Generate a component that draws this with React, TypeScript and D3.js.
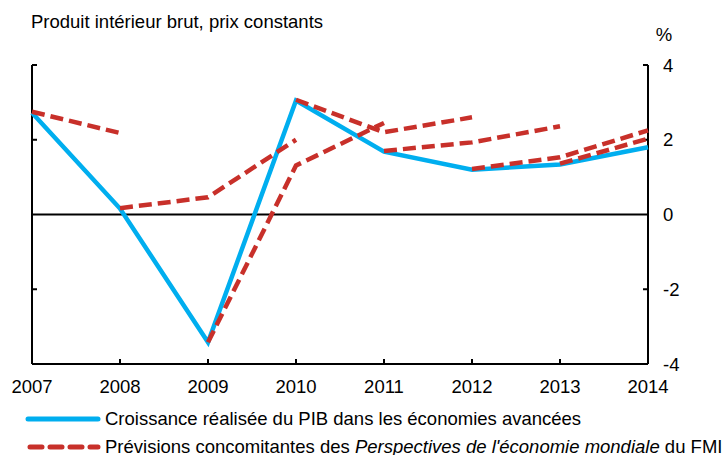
import React from "react";
import * as d3 from "d3";

const years = [2007, 2008, 2009, 2010, 2011, 2012, 2013, 2014];
const actualGrowth = [2.72, 0.16, -3.42, 3.05, 1.68, 1.2, 1.34, 1.8];

// Forecast vintages: each is a short path of [year, value]
const forecast2007Years = [2007, 2008];
const forecast2007Values = [2.75, 2.18];
const forecast2008Years = [2008, 2009, 2010];
const forecast2008Values = [0.17, 0.46, 2.0];
const forecast2009Years = [2009, 2010, 2011];
const forecast2009Values = [-3.42, 1.31, 2.45];
const forecast2010Years = [2010, 2011, 2012];
const forecast2010Values = [3.07, 2.2, 2.6];
const forecast2011Years = [2011, 2012, 2013];
const forecast2011Values = [1.7, 1.93, 2.36];
const forecast2012Years = [2012, 2013, 2014];
const forecast2012Values = [1.22, 1.53, 2.25];
const forecast2013Years = [2013, 2014];
const forecast2013Values = [1.36, 2.03];

const forecastYears = [forecast2007Years, forecast2008Years, forecast2009Years, forecast2010Years, forecast2011Years, forecast2012Years, forecast2013Years];
const forecastValues = [forecast2007Values, forecast2008Values, forecast2009Values, forecast2010Values, forecast2011Values, forecast2012Values, forecast2013Values];

const yTicks = [4, 2, 0, -2, -4];
const yInnerTicks = [4, 2, -2];
const xInnerTicks = [2008, 2009, 2010, 2011, 2012, 2013];

const subtitle = "Produit intérieur brut, prix constants";
const unitLabel = "%";
const legendActual = "Croissance réalisée du PIB dans les économies avancées";
const legendForecastA = "Prévisions concomitantes des ";
const legendForecastB = "Perspectives de l'économie mondiale";
const legendForecastC = " du FMI";

const BLUE = "#00aeef";
const RED = "#c8302a";
const FONT = "Liberation Sans, Arial, sans-serif";
const FS = 18.5;

export default function App() {
  const W = 727, H = 455;
  const x = d3.scaleLinear().domain([2007, 2014]).range([32, 648]);
  const y = d3.scaleLinear().domain([-4, 4]).range([364, 65]);
  const line = d3.line<[number, number]>().x((d) => x(d[0])).y((d) => y(d[1]));

  const actualPath = line(years.map((yr, i) => [yr, actualGrowth[i]] as [number, number])) || "";
  const forecastPaths = forecastYears.map((ys, k) =>
    line(ys.map((yr, i) => [yr, forecastValues[k][i]] as [number, number])) || ""
  );

  const x0 = x(2007), x1 = x(2014), yTop = y(4), yBot = y(-4);

  return (
    <svg width={W} height={H} style={{ position: "absolute", left: 0, top: 0, background: "#fff" }} fontFamily={FONT}>
      <rect x={0} y={0} width={W} height={H} fill="#fff" />
      <text x={31} y={28} fontSize={FS} fill="#000">{subtitle}</text>
      <text x={664} y={41} fontSize={FS} textAnchor="middle" fill="#000">{unitLabel}</text>

      {/* axes frame */}
      <line x1={x0} x2={x0} y1={yTop} y2={yBot} stroke="#000" strokeWidth={2} />
      <line x1={x1} x2={x1} y1={yTop} y2={yBot} stroke="#000" strokeWidth={2} />
      <line x1={x0} x2={x1} y1={yBot} y2={yBot} stroke="#000" strokeWidth={2} />
      <line x1={x0} x2={x1} y1={y(0)} y2={y(0)} stroke="#000" strokeWidth={2} />
      {yInnerTicks.map((t) => (
        <g key={"yt" + t}>
          <line x1={x0} x2={x0 + 5} y1={y(t)} y2={y(t)} stroke="#000" strokeWidth={2} />
          <line x1={x1 - 5} x2={x1} y1={y(t)} y2={y(t)} stroke="#000" strokeWidth={2} />
        </g>
      ))}
      {xInnerTicks.map((t) => (
        <line key={"xt" + t} x1={x(t)} x2={x(t)} y1={yBot} y2={yBot - 5} stroke="#000" strokeWidth={2} />
      ))}
      {yTicks.map((t) => (
        <text key={"yl" + t} x={663} y={y(t) + 6.5} fontSize={FS} fill="#000">{t}</text>
      ))}
      {years.map((t) => (
        <text key={"xl" + t} x={x(t)} y={393} fontSize={FS} textAnchor="middle" fill="#000">{t}</text>
      ))}

      {/* data */}
      <path d={actualPath} fill="none" stroke={BLUE} strokeWidth={4.5} strokeLinejoin="miter" />
      {forecastPaths.map((p, i) => (
        <path key={"fp" + i} d={p} fill="none" stroke={RED} strokeWidth={4.5} strokeDasharray="13 6" strokeLinecap="butt" />
      ))}

      {/* legend */}
      <line x1={28} x2={98} y1={419} y2={419} stroke={BLUE} strokeWidth={5} strokeLinecap="round" />
      <text x={105} y={425} fontSize={FS} fill="#000">{legendActual}</text>
      <line x1={30} x2={98} y1={447} y2={447} stroke={RED} strokeWidth={5} strokeDasharray="12 8" strokeLinecap="round" />
      <text x={105} y={453} fontSize={FS} fill="#000">
        {legendForecastA}
        <tspan fontStyle="italic">{legendForecastB}</tspan>
        {legendForecastC}
      </text>
    </svg>
  );
}
